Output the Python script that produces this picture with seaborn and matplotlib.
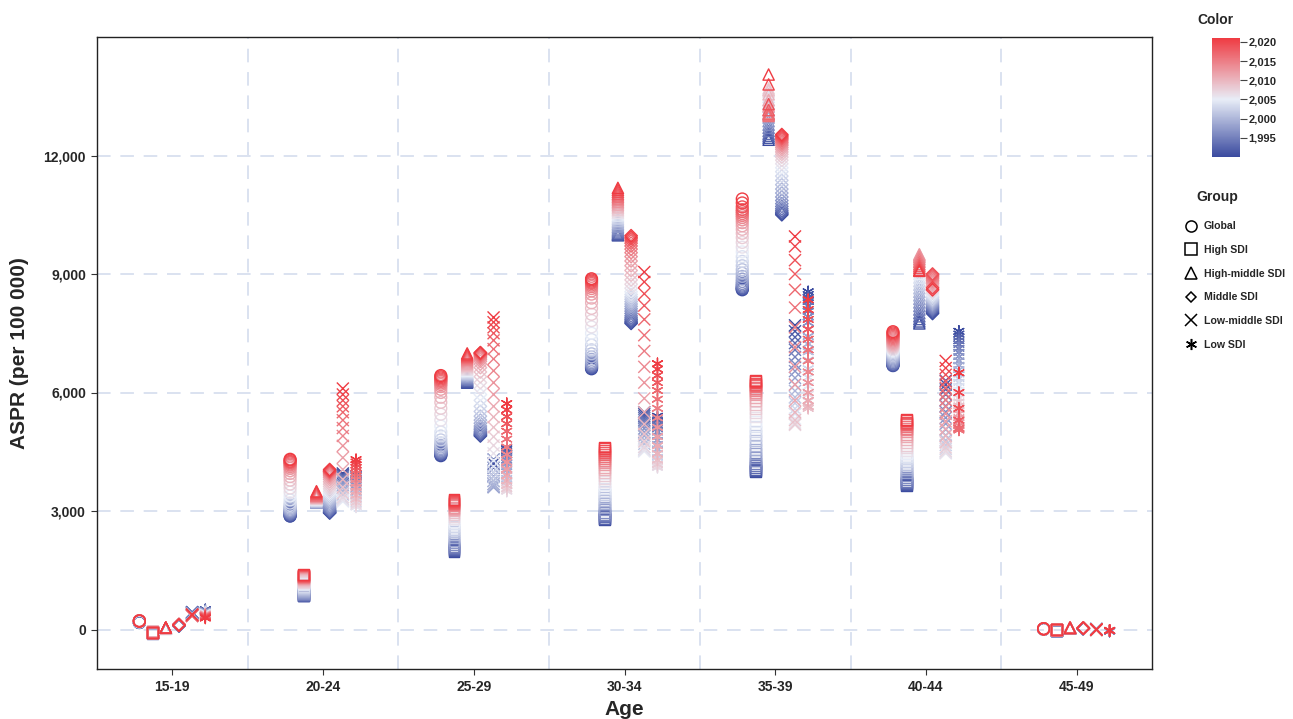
import numpy as np
import pandas as pd
import matplotlib
matplotlib.use("Agg")
import matplotlib.pyplot as plt
import seaborn as sns
from matplotlib.colors import LinearSegmentedColormap, Normalize
from matplotlib.lines import Line2D
from matplotlib.ticker import FuncFormatter
from matplotlib.cm import ScalarMappable

# ---------------- data ----------------
ages = ["15-19", "20-24", "25-29", "30-34", "35-39", "40-44", "45-49"]
groups = ["Global", "High SDI", "High-middle SDI", "Middle SDI", "Low-middle SDI", "Low SDI"]
years = list(range(1990, 2022))
y_ticks = [0, 3000, 6000, 9000, 12000]
cbar_ticks = [1995, 2000, 2005, 2010, 2015, 2020]

global_aspr = {
    "15-19": [175, 178, 180, 182, 184, 186, 188, 190, 192, 194, 196, 198, 200, 202, 204, 206, 208, 210, 212, 214, 216, 218, 220, 222, 224, 222, 220, 218, 216, 214, 212, 210],
    "20-24": [2870, 2880, 2900, 2920, 2940, 2960, 2980, 3000, 3020, 3050, 3080, 3110, 3150, 3200, 3280, 3380, 3480, 3580, 3680, 3780, 3870, 3950, 4020, 4080, 4120, 4160, 4190, 4220, 4240, 4260, 4290, 4310],
    "25-29": [4400, 4420, 4440, 4460, 4480, 4500, 4520, 4550, 4580, 4620, 4660, 4720, 4800, 4900, 5000, 5150, 5300, 5450, 5600, 5750, 5880, 6000, 6080, 6150, 6200, 6240, 6280, 6310, 6340, 6370, 6400, 6430],
    "30-34": [6600, 6620, 6640, 6660, 6680, 6700, 6720, 6750, 6790, 6840, 6900, 6980, 7080, 7200, 7340, 7500, 7660, 7820, 7980, 8130, 8270, 8390, 8490, 8570, 8630, 8680, 8720, 8760, 8790, 8820, 8850, 8880],
    "35-39": [8600, 8620, 8640, 8660, 8690, 8720, 8760, 8810, 8870, 8940, 9020, 9110, 9210, 9320, 9440, 9560, 9680, 9800, 9920, 10030, 10130, 10220, 10300, 10370, 10430, 10480, 10530, 10580, 10630, 10700, 10800, 10900],
    "40-44": [6680, 6690, 6700, 6720, 6740, 6760, 6790, 6820, 6850, 6880, 6910, 6940, 6970, 7000, 7030, 7060, 7090, 7120, 7150, 7180, 7210, 7240, 7270, 7300, 7330, 7360, 7390, 7420, 7450, 7480, 7510, 7540],
    "45-49": [5, 6, 7, 8, 9, 10, 10, 11, 11, 12, 12, 13, 13, 14, 14, 15, 15, 16, 16, 17, 17, 18, 18, 19, 19, 20, 20, 20, 19, 18, 17, 16],
}
high_sdi_aspr = {
    "15-19": [-90, -88, -86, -84, -82, -80, -78, -76, -74, -72, -70, -68, -66, -64, -62, -60, -60, -60, -60, -60, -60, -60, -60, -62, -64, -66, -68, -70, -72, -74, -76, -78],
    "20-24": [850, 860, 870, 880, 890, 900, 910, 930, 950, 980, 1010, 1040, 1070, 1100, 1130, 1160, 1180, 1200, 1220, 1240, 1260, 1280, 1300, 1310, 1320, 1330, 1340, 1350, 1360, 1370, 1380, 1400],
    "25-29": [1980, 2000, 2020, 2050, 2080, 2110, 2150, 2200, 2260, 2330, 2400, 2470, 2540, 2610, 2680, 2740, 2800, 2860, 2910, 2960, 3000, 3040, 3070, 3100, 3130, 3160, 3180, 3200, 3220, 3240, 3260, 3280],
    "30-34": [2780, 2800, 2820, 2850, 2880, 2920, 2970, 3030, 3100, 3180, 3260, 3340, 3420, 3500, 3580, 3660, 3740, 3820, 3900, 3970, 4040, 4110, 4170, 4230, 4290, 4340, 4390, 4440, 4490, 4540, 4580, 4620],
    "35-39": [4000, 4030, 4060, 4100, 4150, 4210, 4280, 4360, 4450, 4550, 4660, 4780, 4900, 5020, 5140, 5260, 5380, 5490, 5600, 5700, 5790, 5870, 5940, 6000, 6050, 6100, 6140, 6180, 6210, 6240, 6270, 6300],
    "40-44": [3650, 3670, 3690, 3720, 3750, 3790, 3840, 3900, 3970, 4040, 4110, 4180, 4250, 4320, 4390, 4460, 4530, 4600, 4670, 4740, 4810, 4880, 4940, 5000, 5050, 5100, 5140, 5180, 5220, 5250, 5280, 5310],
    "45-49": [-20, -19, -18, -17, -16, -15, -14, -13, -12, -11, -10, -9, -8, -7, -6, -5, -5, -4, -4, -3, -3, -2, -2, -1, -1, 0, 0, 0, -1, -2, -3, -4],
}
high_middle_sdi_aspr = {
    "15-19": [20, 21, 22, 23, 24, 25, 26, 27, 28, 29, 30, 31, 32, 33, 34, 35, 36, 37, 38, 39, 40, 41, 42, 43, 44, 45, 46, 47, 48, 49, 50, 50],
    "20-24": [3280, 3270, 3260, 3250, 3240, 3230, 3220, 3210, 3220, 3230, 3240, 3250, 3260, 3270, 3280, 3290, 3300, 3310, 3320, 3330, 3340, 3350, 3360, 3370, 3380, 3390, 3400, 3420, 3440, 3460, 3480, 3500],
    "25-29": [6250, 6270, 6290, 6310, 6330, 6350, 6370, 6390, 6410, 6430, 6450, 6470, 6490, 6510, 6530, 6550, 6580, 6610, 6640, 6670, 6700, 6730, 6760, 6790, 6820, 6850, 6880, 6900, 6920, 6940, 6960, 6990],
    "30-34": [9980, 10000, 10020, 10050, 10080, 10110, 10150, 10190, 10230, 10270, 10310, 10350, 10390, 10430, 10470, 10510, 10550, 10590, 10630, 10670, 10710, 10750, 10790, 10830, 10870, 10910, 10950, 10990, 11030, 11080, 11130, 11180],
    "35-39": [12400, 12450, 12500, 12550, 12620, 12700, 12780, 12870, 12960, 13050, 13140, 13230, 13320, 13400, 13480, 13550, 13610, 13660, 13700, 13650, 13550, 13400, 13250, 13150, 13080, 13030, 13000, 13050, 13150, 13300, 13800, 14050],
    "40-44": [7750, 7800, 7860, 7930, 8010, 8100, 8190, 8280, 8370, 8460, 8550, 8640, 8730, 8820, 8910, 9000, 9080, 9160, 9240, 9320, 9390, 9450, 9500, 9480, 9430, 9370, 9310, 9250, 9200, 9150, 9100, 9080],
    "45-49": [30, 31, 32, 33, 34, 35, 36, 37, 38, 39, 40, 41, 42, 43, 44, 45, 46, 47, 48, 49, 50, 50, 49, 48, 47, 46, 45, 44, 43, 42, 41, 40],
}
middle_sdi_aspr = {
    "15-19": [90, 92, 94, 96, 98, 100, 102, 104, 106, 108, 110, 112, 114, 116, 118, 120, 122, 124, 126, 128, 130, 128, 126, 124, 122, 120, 118, 116, 114, 112, 110, 108],
    "20-24": [2950, 2960, 2980, 3000, 3020, 3050, 3080, 3110, 3150, 3190, 3230, 3270, 3310, 3350, 3400, 3450, 3500, 3560, 3620, 3680, 3740, 3800, 3850, 3890, 3920, 3950, 3970, 3990, 4000, 4010, 4030, 4050],
    "25-29": [4900, 4920, 4940, 4960, 4990, 5020, 5060, 5100, 5150, 5220, 5300, 5400, 5520, 5650, 5800, 5950, 6100, 6250, 6400, 6520, 6630, 6720, 6790, 6840, 6880, 6910, 6940, 6960, 6980, 6990, 7000, 7010],
    "30-34": [7750, 7780, 7810, 7850, 7890, 7940, 8000, 8060, 8120, 8180, 8240, 8300, 8360, 8420, 8480, 8550, 8640, 8740, 8850, 8970, 9090, 9210, 9330, 9440, 9540, 9630, 9710, 9780, 9840, 9890, 9930, 9970],
    "35-39": [10500, 10530, 10560, 10600, 10650, 10710, 10780, 10860, 10950, 11050, 11150, 11260, 11370, 11480, 11590, 11690, 11790, 11880, 11960, 12030, 12090, 12150, 12200, 12250, 12290, 12330, 12370, 12410, 12440, 12470, 12500, 12530],
    "40-44": [8000, 8030, 8060, 8090, 8120, 8150, 8180, 8210, 8240, 8270, 8300, 8330, 8360, 8400, 8440, 8480, 8520, 8560, 8600, 8640, 8680, 8720, 8760, 8800, 8840, 8880, 8920, 8950, 8980, 9000, 8650, 8600],
    "45-49": [20, 21, 22, 23, 24, 25, 26, 27, 28, 29, 30, 31, 32, 33, 34, 35, 36, 37, 38, 39, 40, 40, 39, 38, 37, 36, 35, 34, 33, 32, 31, 30],
}
low_middle_sdi_aspr = {
    "15-19": [440, 435, 430, 425, 420, 415, 410, 405, 400, 395, 390, 385, 380, 375, 370, 365, 360, 355, 350, 348, 346, 344, 342, 340, 345, 350, 355, 360, 365, 370, 375, 380],
    "20-24": [3950, 3920, 3900, 3880, 3850, 3820, 3780, 3720, 3650, 3580, 3500, 3420, 3350, 3300, 3260, 3240, 3280, 3350, 3450, 3600, 3800, 4050, 4350, 4650, 4900, 5100, 5300, 5500, 5650, 5800, 5950, 6100],
    "25-29": [4300, 4200, 4100, 3980, 3870, 3760, 3680, 3620, 3600, 3620, 3680, 3760, 3860, 3980, 4120, 4280, 4460, 4660, 4880, 5120, 5380, 5650, 5950, 6250, 6550, 6850, 7100, 7320, 7500, 7650, 7780, 7900],
    "30-34": [5500, 5450, 5400, 5350, 5300, 5240, 5170, 5090, 5000, 4900, 4800, 4700, 4620, 4560, 4520, 4510, 4540, 4620, 4760, 4950, 5200, 5500, 5850, 6250, 6650, 7050, 7450, 7850, 8200, 8500, 8800, 9050],
    "35-39": [7700, 7550, 7400, 7250, 7080, 6900, 6720, 6540, 6370, 6200, 6040, 5880, 5730, 5590, 5460, 5340, 5240, 5180, 5200, 5300, 5500, 5800, 6200, 6650, 7150, 7650, 8150, 8600, 9000, 9350, 9700, 9950],
    "40-44": [6300, 6200, 6080, 5950, 5810, 5660, 5510, 5360, 5210, 5060, 4920, 4790, 4670, 4570, 4500, 4460, 4470, 4520, 4610, 4740, 4900, 5080, 5270, 5460, 5640, 5810, 5970, 6120, 6280, 6450, 6620, 6800],
    "45-49": [10, 9, 8, 7, 6, 5, 4, 3, 2, 1, 0, -1, -2, -3, -4, -5, -6, -7, -8, -9, -10, -10, -9, -8, -7, -6, -5, -4, -3, -2, -1, 0],
}
low_sdi_aspr = {
    "15-19": [500, 495, 490, 485, 480, 474, 468, 462, 456, 450, 444, 438, 432, 426, 420, 414, 408, 402, 396, 390, 384, 378, 372, 366, 360, 354, 348, 340, 330, 320, 305, 290],
    "20-24": [3950, 3930, 3900, 3870, 3830, 3780, 3720, 3650, 3570, 3480, 3400, 3320, 3250, 3180, 3120, 3100, 3110, 3150, 3220, 3300, 3400, 3500, 3600, 3700, 3800, 3880, 3950, 4020, 4100, 4170, 4240, 4300],
    "25-29": [4600, 4560, 4520, 4470, 4420, 4360, 4290, 4210, 4120, 4020, 3920, 3820, 3720, 3640, 3570, 3520, 3500, 3520, 3570, 3650, 3760, 3900, 4060, 4240, 4430, 4620, 4820, 5020, 5210, 5390, 5560, 5720],
    "30-34": [5400, 5350, 5300, 5240, 5170, 5090, 5000, 4900, 4790, 4680, 4570, 4460, 4360, 4270, 4190, 4130, 4100, 4120, 4180, 4290, 4450, 4650, 4880, 5120, 5360, 5600, 5830, 6050, 6250, 6430, 6590, 6730],
    "35-39": [8550, 8480, 8400, 8300, 8190, 8060, 7920, 7770, 7600, 7420, 7230, 7030, 6820, 6600, 6380, 6160, 5950, 5780, 5650, 5600, 5650, 5800, 6000, 6250, 6520, 6800, 7080, 7350, 7600, 7850, 8100, 8350],
    "40-44": [7550, 7480, 7400, 7310, 7220, 7120, 7020, 6910, 6800, 6690, 6580, 6470, 6360, 6260, 6160, 6060, 5960, 5860, 5760, 5660, 5560, 5460, 5360, 5260, 5160, 5080, 5050, 5100, 5300, 5600, 6000, 6500],
    "45-49": [-40, -39, -38, -37, -36, -35, -34, -33, -32, -31, -30, -29, -28, -27, -26, -25, -24, -23, -22, -21, -20, -20, -21, -22, -23, -24, -25, -26, -27, -28, -29, -30],
}
group_data = [global_aspr, high_sdi_aspr, high_middle_sdi_aspr,
              middle_sdi_aspr, low_middle_sdi_aspr, low_sdi_aspr]

# ---------------- styling ----------------
markers = ["o", "s", "^", "D", "x", (6, 2, 0)]
sizes = [72, 62, 66, 40, 75, 64]
cmap = LinearSegmentedColormap.from_list(
    "bwr_custom", [(0.0, "#3a4a9f"), (0.484, "#e8edf7"), (1.0, "#ef3b42")])
norm = Normalize(vmin=1990, vmax=2021)
FONT = "Liberation Sans"

sns.set_style("white")
plt.rcParams["font.family"] = [FONT, "DejaVu Sans"]

fig = plt.figure(figsize=(12.93, 7.19), dpi=100)
ax = fig.add_axes([97 / 1293, 50 / 719, (1152 - 97) / 1293, (669 - 37) / 719])

dodge = 0.0875
for gi, (g, gdict) in enumerate(zip(groups, group_data)):
    rows = []
    for ai, age in enumerate(ages):
        for yr, v in zip(years, gdict[age]):
            rows.append({"age": age, "year": yr, "value": v,
                         "pos": ai + (gi - 2.5) * dodge})
    df = pd.DataFrame(rows).sort_values("year", kind="stable")
    sns.scatterplot(data=df, x="pos", y="value", hue="year", palette=cmap,
                    hue_norm=norm, marker=markers[gi], s=sizes[gi],
                    linewidth=1.0, legend=False, ax=ax, zorder=3)
    coll = ax.collections[-1]
    cols = coll.get_facecolors()
    coll.set_edgecolors(cols)
    coll.set_facecolors("none")
    coll.set_linewidths(1.0)

# axes
ax.set_xlim(-0.5, len(ages) - 0.5)
ax.set_ylim(-1000, 15000)
ax.set_xticks(range(len(ages)))
ax.set_xticklabels(ages)
ax.set_yticks(y_ticks)
ax.yaxis.set_major_formatter(FuncFormatter(lambda v, p: f"{int(v):,}"))
for lab in ax.get_xticklabels() + ax.get_yticklabels():
    lab.set_fontweight("bold")
    lab.set_fontsize(10)
ax.tick_params(axis="both", which="major", length=4, width=0.8, color="#333333",
               direction="out", pad=4, bottom=True, left=True)

grid_kw = dict(color="#dbe2f0", linewidth=1.4, linestyle=(0, (7, 5)), zorder=1)
for yv in y_ticks:
    ax.axhline(yv, **grid_kw)
for xb in np.arange(0.5, len(ages) - 0.5, 1.0):
    ax.axvline(xb, **grid_kw)

for sp in ax.spines.values():
    sp.set_visible(True)
    sp.set_color("#222222")
    sp.set_linewidth(1.0)

ax.set_xlabel("Age", fontsize=15, fontweight="bold", labelpad=4)
ax.set_ylabel("ASPR (per 100 000)", fontsize=15, fontweight="bold", labelpad=10)

# colorbar
cax = fig.add_axes([1212 / 1293, (719 - 157) / 719, 28 / 1293, 119 / 719])
sm = ScalarMappable(norm=norm, cmap=cmap)
cb = fig.colorbar(sm, cax=cax, ticks=cbar_ticks)
cb.outline.set_visible(False)
cb.ax.yaxis.set_major_formatter(FuncFormatter(lambda v, p: f"{int(v):,}"))
cb.ax.tick_params(length=5, width=0.8, color="#444444", labelsize=8, pad=1)
for lab in cb.ax.get_yticklabels():
    lab.set_fontweight("bold")
fig.text(1197 / 1293, 1 - 20 / 719, "Color", fontsize=10, fontweight="bold",
         ha="left", va="center")

# group legend
fig.text(1196 / 1293, 1 - 197 / 719, "Group", fontsize=10, fontweight="bold",
         ha="left", va="center")
handles = []
for gi, g in enumerate(groups):
    m = markers[gi]
    ms = {"o": 8, "s": 8, "^": 8, "D": 5.5, "x": 8.5}.get(m if isinstance(m, str) else "*", 8)
    handles.append(Line2D([], [], linestyle="none", marker=m, markersize=ms,
                          markerfacecolor="none", markeredgecolor="black",
                          markeredgewidth=1.1, color="black", label=g))
leg = fig.legend(handles=handles, loc="upper left",
                 bbox_to_anchor=(1180 / 1293, 1 - 217 / 719), frameon=False,
                 prop={"weight": "bold", "size": 7.6}, handletextpad=0.6,
                 labelspacing=1.3, handlelength=1.25, borderaxespad=0)

fig.savefig("out.png", dpi=100)
